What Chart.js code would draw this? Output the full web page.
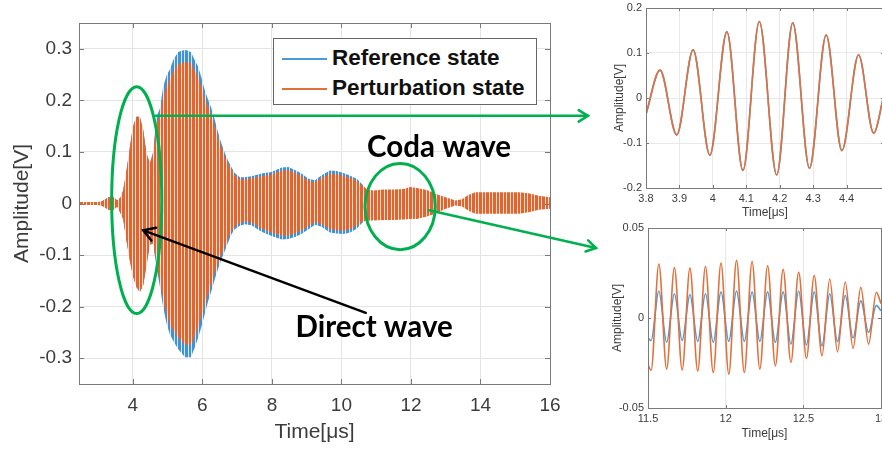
<!DOCTYPE html>
<html lang="en">
<head>
<meta charset="UTF-8">
<title>Reference vs perturbation state</title>
<script src="https://cdn.jsdelivr.net/npm/chart.js"></script>
<style>
    html, body {
        margin: 0;
        padding: 0;
        overflow: hidden;
    }
    body {
        position: relative;
        width: 882px;
        height: 450px;
        background: #fff;
        font-family: 'Liberation Sans', Arial, sans-serif;
    }
    canvas {
        position: absolute;
    }
    #legend {
        position: absolute;
        left: 273px;
        top: 38px;
        width: 262px;
        height: 65px;
        border: 1px solid #666;
        background: #fff;
        font-weight: bold;
        font-size: 22.5px;
        color: #111;
    }
    .item {
        position: absolute;
        left: 8px;
        height: 26px;
        line-height: 26px;
        white-space: nowrap;
    }
    .item span {
        display: inline-block;
        width: 45px;
        height: 2px;
        margin-right: 5px;
        vertical-align: middle;
    }
</style>
</head>
<body>

<canvas id="mainChart" width="882" height="450" style="left:0;top:0"></canvas>
<canvas id="zoomDirect" width="330" height="225" style="left:580px;top:0"></canvas>
<canvas id="zoomCoda" width="330" height="238" style="left:580px;top:212px"></canvas>

<div id="legend">
    <div class="item" style="top:6px"><span style="background:#4a9ad9"></span>Reference state</div>
    <div class="item" style="top:36px"><span style="background:#e2703c"></span>Perturbation state</div>
</div>

<script>
    // ---- main waveform: envelope of the signal (upper / lower peaks) ----
    const envTime = [2.45, 3.0, 3.1, 3.3, 3.45, 3.55, 3.65, 3.72, 3.81, 3.91, 4.0, 4.1, 4.2, 4.3, 4.39, 4.49,
        4.58, 4.68, 4.78, 4.87, 4.97, 5.06, 5.16, 5.3, 5.5, 5.67, 5.78, 5.88, 5.98, 6.07, 6.17, 6.26,
        6.36, 6.45, 6.55, 6.65, 6.74, 6.84, 6.93, 7.08, 7.22, 7.41, 7.7, 7.99, 8.28, 8.47, 8.66, 8.85,
        9.05, 9.24, 9.43, 9.67, 9.86, 10.06, 10.25, 10.44, 10.59, 10.73, 10.92, 11.21, 11.5, 11.79,
        11.98, 12.17, 12.46, 12.7, 13.0, 13.28, 13.47, 13.66, 13.85, 14.14, 14.62, 15.1, 15.39, 15.68, 16.0];

    const refUpper = [0.003, 0.003, 0.004, 0.012, 0.012, 0.006, 0.012, 0.025, 0.061, 0.107, 0.148, 0.168, 0.168, 0.142, 0.097, 0.078,
        0.100, 0.168, 0.184, 0.226, 0.248, 0.260, 0.278, 0.294, 0.298, 0.294, 0.278, 0.265, 0.242, 0.219, 0.200, 0.184,
        0.161, 0.138, 0.116, 0.097, 0.083, 0.070, 0.059, 0.051, 0.051, 0.053, 0.058, 0.061, 0.070, 0.071, 0.065, 0.058,
        0.048, 0.045, 0.055, 0.064, 0.063, 0.059, 0.054, 0.048, 0.038, 0.026, 0.015, 0.014, 0.014, 0.015,
        0.015, 0.015, 0.014, 0.011, 0.007, 0.004, 0.005, 0.009, 0.011, 0.011, 0.011, 0.011, 0.010, 0.008, 0.006];

    const refLower = [-0.003, -0.003, -0.004, -0.012, -0.012, -0.006, -0.020, -0.030, -0.070, -0.110, -0.140, -0.162, -0.172, -0.158, -0.120, -0.080,
        -0.078, -0.124, -0.162, -0.200, -0.233, -0.253, -0.266, -0.282, -0.298, -0.298, -0.279, -0.260, -0.237, -0.214, -0.188, -0.169,
        -0.146, -0.127, -0.107, -0.091, -0.075, -0.059, -0.050, -0.043, -0.040, -0.042, -0.055, -0.063, -0.070, -0.069, -0.065, -0.059,
        -0.050, -0.041, -0.045, -0.056, -0.058, -0.059, -0.056, -0.049, -0.038, -0.030, -0.015, -0.014, -0.013, -0.013,
        -0.013, -0.013, -0.015, -0.013, -0.006, -0.003, -0.004, -0.007, -0.010, -0.010, -0.010, -0.010, -0.009, -0.006, -0.005];

    const pertUpper = [0.003, 0.003, 0.004, 0.012, 0.012, 0.006, 0.012, 0.025, 0.061, 0.107, 0.148, 0.168, 0.168, 0.142, 0.097, 0.078,
        0.095, 0.155, 0.170, 0.208, 0.228, 0.240, 0.256, 0.270, 0.275, 0.272, 0.258, 0.246, 0.226, 0.204, 0.186, 0.171,
        0.150, 0.128, 0.108, 0.090, 0.077, 0.065, 0.055, 0.047, 0.047, 0.049, 0.053, 0.056, 0.064, 0.065, 0.060, 0.053,
        0.044, 0.041, 0.050, 0.057, 0.057, 0.054, 0.050, 0.044, 0.035, 0.028, 0.025, 0.027, 0.027, 0.028,
        0.032, 0.030, 0.026, 0.019, 0.012, 0.006, 0.008, 0.017, 0.022, 0.022, 0.022, 0.022, 0.020, 0.015, 0.012];

    const pertLower = [-0.003, -0.003, -0.004, -0.012, -0.012, -0.006, -0.020, -0.030, -0.070, -0.110, -0.140, -0.162, -0.172, -0.158, -0.120, -0.080,
        -0.075, -0.115, -0.150, -0.185, -0.215, -0.234, -0.246, -0.260, -0.274, -0.274, -0.257, -0.240, -0.218, -0.197, -0.173, -0.156,
        -0.134, -0.117, -0.098, -0.083, -0.068, -0.053, -0.045, -0.038, -0.035, -0.037, -0.049, -0.056, -0.062, -0.062, -0.058, -0.052,
        -0.044, -0.036, -0.040, -0.050, -0.052, -0.053, -0.050, -0.043, -0.035, -0.033, -0.033, -0.032, -0.032, -0.031,
        -0.030, -0.030, -0.025, -0.020, -0.010, -0.004, -0.006, -0.014, -0.020, -0.020, -0.020, -0.020, -0.017, -0.012, -0.010];

    const mainXTicks = [4, 6, 8, 10, 12, 14, 16];
    const mainYTicks = [-0.3, -0.2, -0.1, 0, 0.1, 0.2, 0.3];

    // ---- zoom on the direct wave (3.8 - 4.5 us): peaks and troughs ----
    const directTime = [3.80, 3.842, 3.892, 3.941, 3.991, 4.042, 4.090, 4.139, 4.191, 4.239, 4.289, 4.339, 4.386, 4.436, 4.481, 4.51];
    const directRef  = [-0.036, 0.062, -0.082, 0.107, -0.127, 0.147, -0.161, 0.170, -0.171, 0.167, -0.156, 0.140, -0.117, 0.096, -0.078, 0.0];
    const directPert = [-0.036, 0.062, -0.082, 0.107, -0.127, 0.147, -0.161, 0.170, -0.171, 0.167, -0.156, 0.140, -0.117, 0.096, -0.078, 0.0];
    const directXTicks = [3.8, 3.9, 4.0, 4.1, 4.2, 4.3, 4.4];
    const directYTicks = [-0.2, -0.1, 0, 0.1, 0.2];

    // ---- zoom on the coda wave (11.5 - 13 us): peaks and troughs ----
    const codaTime = [11.50, 11.52, 11.57, 11.62, 11.67, 11.72, 11.77, 11.82, 11.87, 11.92, 11.97, 12.02, 12.07, 12.12, 12.17,
        12.22, 12.27, 12.32, 12.37, 12.42, 12.47, 12.52, 12.57, 12.62, 12.67, 12.72, 12.77, 12.82, 12.87, 12.92, 12.97, 13.0];
    const codaRef = [-0.011, -0.0125, 0.0150, -0.0135, 0.0135, -0.0125, 0.0130, -0.0130, 0.0135, -0.0135, 0.0145, -0.0130, 0.0150, -0.0130, 0.0145,
        -0.0130, 0.0145, -0.0135, 0.0145, -0.0145, 0.0150, -0.0150, 0.0145, -0.0155, 0.0135, -0.0130, 0.0125, -0.0110, 0.0095, -0.0080, 0.0070, 0.004];
    const codaPert = [-0.026, -0.0290, 0.0300, -0.0284, 0.0280, -0.0288, 0.0277, -0.0294, 0.0286, -0.0303, 0.0305, -0.0312, 0.0320, -0.0303, 0.0314,
        -0.0284, 0.0290, -0.0266, 0.0270, -0.0247, 0.0255, -0.0225, 0.0236, -0.0210, 0.0217, -0.0188, 0.0200, -0.0169, 0.0170, -0.0145, 0.0143, 0.008];
    const codaXTicks = [11.5, 12, 12.5, 13];
    const codaYTicks = [-0.05, 0, 0.05];

    const BLUE = '#4a9ad9';
    const ORANGE = '#e2703c';
    const GREEN = '#00b04f';
    const TICK_COLOR = '#3c3c3c';

    Chart.defaults.font.family = "'Liberation Sans', Arial, sans-serif";

    const pts = (xs, ys) => xs.map((x, i) => ({ x: x, y: ys[i] }));
    const fmt = v => String(+v.toFixed(2));

    // vertical stripes, to look like the dense oscillation
    function stripes(fg, gap) {
        const c = document.createElement('canvas');
        c.width = 7;
        c.height = 1;
        const g = c.getContext('2d');
        g.fillStyle = fg;
        g.fillRect(0, 0, 7, 1);
        g.fillStyle = gap;
        g.fillRect(2, 0, 1, 1);
        g.fillRect(6, 0, 1, 1);
        return g.createPattern(c, 'repeat');
    }

    // matlab-like box with ticks pointing inward
    const framePlugin = {
        id: 'frame',
        afterDatasetsDraw(chart, args, opts) {
            const { ctx, chartArea: a, scales: { x, y } } = chart;
            const len = opts.tickLength || 5;
            ctx.save();
            ctx.strokeStyle = '#7a7a7a';
            ctx.lineWidth = 1;
            ctx.strokeRect(Math.round(a.left) + 0.5, Math.round(a.top) + 0.5,
                Math.round(a.right - a.left), Math.round(a.bottom - a.top));
            ctx.beginPath();
            x.ticks.forEach(t => {
                const px = Math.round(x.getPixelForValue(t.value)) + 0.5;
                ctx.moveTo(px, a.bottom); ctx.lineTo(px, a.bottom - len);
                ctx.moveTo(px, a.top); ctx.lineTo(px, a.top + len);
            });
            y.ticks.forEach(t => {
                const py = Math.round(y.getPixelForValue(t.value)) + 0.5;
                ctx.moveTo(a.left, py); ctx.lineTo(a.left + len, py);
                ctx.moveTo(a.right, py); ctx.lineTo(a.right - len, py);
            });
            ctx.stroke();
            ctx.restore();
        }
    };

    function arrowHead(ctx, x0, y0, x1, y1, size) {
        const ang = Math.atan2(y1 - y0, x1 - x0);
        ctx.beginPath();
        ctx.moveTo(x1 - size * Math.cos(ang - 0.55), y1 - size * Math.sin(ang - 0.55));
        ctx.lineTo(x1, y1);
        ctx.lineTo(x1 - size * Math.cos(ang + 0.55), y1 - size * Math.sin(ang + 0.55));
        ctx.stroke();
    }

    // ellipses, arrows and labels on top of the main plot
    const notesPlugin = {
        id: 'notes',
        afterDraw(chart) {
            const { ctx, scales: { x, y } } = chart;
            const px = t => x.getPixelForValue(t);
            const py = v => y.getPixelForValue(v);
            ctx.save();
            ctx.lineCap = 'round';

            ctx.strokeStyle = GREEN;
            ctx.lineWidth = 3;
            [[4.11, 0.0065, 0.72, 0.22], [11.69, -0.006, 1.01, 0.0835]].forEach(e => {
                ctx.beginPath();
                ctx.ellipse(px(e[0]), py(e[1]), px(e[0] + e[2]) - px(e[0]), py(e[1]) - py(e[1] + e[3]), 0, 0, Math.PI * 2);
                ctx.stroke();
            });

            // links to the zoomed views on the right
            const links = [
                [px(4.66), py(0.17), 588, py(0.17)],
                [px(12.52), py(-0.013), 596, 248]
            ];
            ctx.lineWidth = 2.5;
            links.forEach(l => {
                ctx.beginPath();
                ctx.moveTo(l[0], l[1]);
                ctx.lineTo(l[2], l[3]);
                ctx.stroke();
                arrowHead(ctx, l[0], l[1], l[2], l[3], 11);
            });

            // black arrow to the direct wave
            ctx.strokeStyle = '#000';
            ctx.lineWidth = 2.5;
            const x0 = px(10.7), y0 = py(-0.212), x1 = px(4.3), y1 = py(-0.052);
            ctx.beginPath();
            ctx.moveTo(x0, y0);
            ctx.lineTo(x1, y1);
            ctx.stroke();
            arrowHead(ctx, x0, y0, x1, y1, 13);

            ctx.fillStyle = '#000';
            ctx.font = 'bold 29.5px Lato';
            ctx.textAlign = 'center';
            ctx.textBaseline = 'middle';
            ctx.fillText('Coda wave', px(12.81), py(0.109));
            ctx.fillText('Direct wave', px(10.94), py(-0.241));
            ctx.restore();
        }
    };

    function fixedAxis(ticks, size, key) {
        return {
            afterBuildTicks: s => { s.ticks = ticks.map(v => ({ value: v })); },
            afterFit: s => {
                s[key] = size;
                s.paddingLeft = 0; s.paddingRight = 0;
                s.paddingTop = 0; s.paddingBottom = 0;
            }
        };
    }

    // ---- zoom charts ----
    function createZoomChart(canvasId, time, ref, pert, xr, yr, xt, yt, box) {
        const ctx = document.getElementById(canvasId).getContext('2d');
        const lineStyle = { pointRadius: 0, borderWidth: 1.6, cubicInterpolationMode: 'monotone', tension: 0.4, fill: false };
        return new Chart(ctx, {
            type: 'line',
            data: {
                datasets: [
                    Object.assign({ data: pts(time, pert), borderColor: ORANGE, order: 1 }, lineStyle),
                    Object.assign({ data: pts(time, ref), borderColor: BLUE, order: 2 }, lineStyle)
                ]
            },
            options: {
                responsive: false,
                animation: false,
                layout: { padding: { left: 0, top: box.top, right: box.right, bottom: 0 } },
                plugins: { legend: { display: false }, tooltip: { enabled: false }, frame: { tickLength: 3 } },
                scales: {
                    x: Object.assign({
                        type: 'linear', min: xr[0], max: xr[1],
                        grid: { color: '#e8e8e8', drawTicks: false },
                        border: { display: false },
                        ticks: { font: { size: 11 }, color: TICK_COLOR, padding: 4, maxRotation: 0, callback: fmt },
                        title: { display: true, text: 'Time[μs]', font: { size: 12 }, color: TICK_COLOR, padding: { top: 0, bottom: box.xTitle } }
                    }, fixedAxis(xt, box.xh, 'height')),
                    y: Object.assign({
                        type: 'linear', min: yr[0], max: yr[1],
                        grid: { color: '#e8e8e8', drawTicks: false },
                        border: { display: false },
                        ticks: { font: { size: 11 }, color: TICK_COLOR, padding: 4, callback: fmt },
                        title: { display: true, text: 'Amplitude[V]', font: { size: 12 }, color: TICK_COLOR, padding: { top: box.yTitle, bottom: 0 } }
                    }, fixedAxis(yt, box.yw, 'width'))
                }
            },
            plugins: [framePlugin]
        });
    }

    createZoomChart('zoomDirect', directTime, directRef, directPert, [3.8, 4.512], [-0.2, 0.2],
        directXTicks, directYTicks, { top: 8, right: 26, xh: 37, yw: 66, xTitle: 5, yTitle: 32 });
    createZoomChart('zoomCoda', codaTime, codaRef, codaPert, [11.5, 13.0], [-0.05, 0.05],
        codaXTicks, codaYTicks, { top: 16, right: 29, xh: 42, yw: 68, xTitle: 9, yTitle: 30 });

    // ---- main chart ----
    const mainCtx = document.getElementById('mainChart').getContext('2d');
    const band = { pointRadius: 0, borderWidth: 0, borderColor: 'rgba(0,0,0,0)', tension: 0 };
    new Chart(mainCtx, {
        type: 'line',
        data: {
            datasets: [
                Object.assign({ label: 'Reference state', data: pts(envTime, refUpper), fill: false, order: 2 }, band),
                Object.assign({ data: pts(envTime, refLower), fill: 0, order: 2,
                    backgroundColor: stripes('#3f92d6', '#d8e9f7') }, band),
                Object.assign({ label: 'Perturbation state', data: pts(envTime, pertUpper), fill: false, order: 1 }, band),
                Object.assign({ data: pts(envTime, pertLower), fill: 2, order: 1,
                    backgroundColor: stripes('#e0652e', '#f9dccd') }, band)
            ]
        },
        options: {
            responsive: false,
            animation: false,
            layout: { padding: { left: 0, top: 23, right: 332, bottom: 0 } },
            plugins: { legend: { display: false }, tooltip: { enabled: false }, frame: { tickLength: 5 } },
            scales: {
                x: Object.assign({
                    type: 'linear', min: 2.45, max: 16,
                    grid: { color: '#e4e4e4', drawTicks: false },
                    border: { display: false },
                    ticks: { font: { size: 19 }, color: TICK_COLOR, padding: 10, maxRotation: 0, callback: fmt },
                    title: { display: true, text: 'Time[μs]', font: { size: 21 }, color: TICK_COLOR, padding: { top: 0, bottom: 5 } }
                }, fixedAxis(mainXTicks, 66, 'height')),
                y: Object.assign({
                    type: 'linear', min: -0.35, max: 0.35,
                    grid: { color: '#e4e4e4', drawTicks: false },
                    border: { display: false },
                    ticks: { font: { size: 19 }, color: TICK_COLOR, padding: 7, callback: fmt },
                    title: { display: true, text: 'Amplitude[V]', font: { size: 21 }, color: TICK_COLOR, padding: { top: 10, bottom: 0 } }
                }, fixedAxis(mainYTicks, 79, 'width'))
            }
        },
        plugins: [framePlugin, notesPlugin]
    });
</script>
</body>
</html>
